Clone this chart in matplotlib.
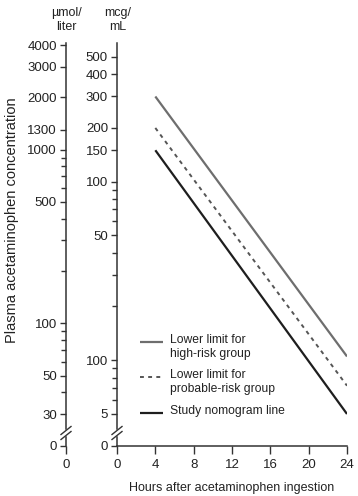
import matplotlib
matplotlib.use("Agg")
import matplotlib.pyplot as plt
from matplotlib.lines import Line2D
from matplotlib.ticker import NullFormatter, FixedLocator, FixedFormatter

plt.rcParams['font.family'] = ['Liberation Sans', 'DejaVu Sans']

# ---- data ----
hours = [4, 24]
high_risk = [300, 10.5]
probable_risk = [200, 7.2]
study_line = [150, 5.0]

x_ticks = [0, 4, 8, 12, 16, 20, 24]
mcg_ticks = [5, 10, 50, 100, 150, 200, 300, 400, 500]
mcg_labels = ['5', '100', '50', '100', '150', '200', '300', '400', '500']
mcg_minor = [6, 7, 8, 9, 20, 30, 40, 60, 70, 80, 90]
umol_ticks = [30, 50, 100, 500, 1000, 1300, 2000, 3000, 4000]
umol_labels = ['30', '50', '100', '500', '1000', '1300', '2000', '3000', '4000']
umol_minor = [40, 60, 70, 80, 90, 200, 300, 400, 600, 700, 800, 900]

legend_labels = ['Lower limit for\nhigh-risk group',
                 'Lower limit for\nprobable-risk group',
                 'Study nomogram line']

W, H = 358, 496
fig = plt.figure(figsize=(W / 100, H / 100), dpi=100)

def rect(x0, y_top, x1, y_bot):
    return [x0 / W, 1 - y_bot / H, (x1 - x0) / W, (y_bot - y_top) / H]

FS = 9
FS_TICK = 9.5
FS_LEG = 8.7
FS_YLAB = 10.5
TXC = '#222222'
AXC = '#333333'
TL = 4.5

def style_axis(ax):
    for s in ['top', 'right', 'bottom']:
        ax.spines[s].set_visible(False)
    ax.spines['left'].set_color(AXC)
    ax.spines['left'].set_linewidth(1.1)
    ax.tick_params(axis='y', which='major', length=TL, width=1.0, color=AXC,
                   labelsize=FS_TICK, pad=2, labelcolor=TXC)
    ax.tick_params(axis='y', which='minor', length=3.8, width=1.0, color=AXC)
    ax.patch.set_visible(False)

# ---- main mcg/mL axes (log part) ----
x_left, x_right = 117, 347
y_top, y_brk = 43, 429
ax = fig.add_axes(rect(x_left, y_top, x_right, y_brk))
ax.set_yscale('log')
ax.set_xlim(0, 24)
ax.set_ylim(4.12, 598)
style_axis(ax)
ax.set_xticks([])
ax.yaxis.set_major_locator(FixedLocator(mcg_ticks))
ax.yaxis.set_major_formatter(FixedFormatter(mcg_labels))
ax.yaxis.set_minor_locator(FixedLocator(mcg_minor))
ax.yaxis.set_minor_formatter(NullFormatter())

styles = [dict(color='#6e6e6e', lw=1.6, solid_capstyle='butt'),
          dict(color='#555555', lw=1.4, linestyle=(0, (2, 2.2))),
          dict(color='#1e1e1e', lw=1.6, solid_capstyle='butt')]
for vals, st in zip([high_risk, probable_risk, study_line], styles):
    ax.plot(hours, vals, **st)

# ---- legend (handles aligned with first text line) ----
leg_first_line_y = [342, 377, 413]
for lab, st, yy in zip(legend_labels, styles, leg_first_line_y):
    fy = 1 - yy / H
    fig.add_artist(Line2D([140 / W, 163 / W], [fy, fy], **st))
    fig.text(170 / W, 1 - (yy - 8) / H, lab, ha='left', va='top', fontsize=FS_LEG,
             color=TXC, linespacing=1.2)

# ---- main bottom axes (zero part) ----
y_low_top, y_zero = 437, 446
ax0 = fig.add_axes(rect(x_left, y_low_top, x_right, y_zero))
ax0.set_xlim(0, 24)
ax0.set_ylim(0, 1)
for s in ['top', 'right']:
    ax0.spines[s].set_visible(False)
for s in ['left', 'bottom']:
    ax0.spines[s].set_color(AXC)
    ax0.spines[s].set_linewidth(1.1)
ax0.set_yticks([0])
ax0.set_yticklabels(['0'])
ax0.set_xticks(x_ticks)
ax0.set_xticklabels([str(v) for v in x_ticks])
ax0.tick_params(axis='both', length=TL, width=1.0, color=AXC, labelsize=FS_TICK, pad=2,
                labelcolor=TXC)
ax0.tick_params(axis='x', length=6, pad=3)
ax0.patch.set_visible(False)
ax0.set_xlabel('Hours after acetaminophen ingestion', fontsize=FS, color=TXC, labelpad=8)

# ---- left umol/liter axes (log part) ----
xu = 66
axu = fig.add_axes(rect(xu, y_top, xu + 2, y_brk))
axu.set_yscale('log')
axu.set_ylim(24.6, 4108)
axu.set_xticks([])
style_axis(axu)
axu.yaxis.set_major_locator(FixedLocator(umol_ticks))
axu.yaxis.set_major_formatter(FixedFormatter(umol_labels))
axu.yaxis.set_minor_locator(FixedLocator(umol_minor))
axu.yaxis.set_minor_formatter(NullFormatter())

fig.text(12 / W, 1 - 220 / H, 'Plasma acetaminophen concentration', rotation=90,
         ha='center', va='center', fontsize=FS_YLAB, color=TXC)

axu0 = fig.add_axes(rect(xu, y_low_top, xu + 2, y_zero))
axu0.set_xlim(0, 1)
axu0.set_ylim(0, 1)
for s in ['top', 'right', 'bottom']:
    axu0.spines[s].set_visible(False)
axu0.spines['left'].set_color(AXC)
axu0.spines['left'].set_linewidth(1.1)
axu0.set_yticks([0])
axu0.set_yticklabels(['0'])
axu0.set_xticks([0])
axu0.set_xticklabels(['0'])
axu0.tick_params(axis='both', length=TL, width=1.0, color=AXC, labelsize=FS_TICK, pad=2,
                 labelcolor=TXC)
axu0.tick_params(axis='x', length=6, pad=3)
axu0.patch.set_visible(False)

# ---- axis break marks ----
for xc in (xu, x_left):
    for dy in (-2.5, 2.5):
        xs = [(xc - 5) / W, (xc + 5) / W]
        ys = [1 - (433 + dy + 4) / H, 1 - (433 + dy - 4) / H]
        fig.add_artist(Line2D(xs, ys, color=AXC, lw=1.0))

# ---- unit headers ----
fig.text(xu / W, 1 - 20 / H, 'µmol/\nliter', ha='center', va='center', fontsize=FS,
         color=TXC, linespacing=1.3)
fig.text((x_left + 1) / W, 1 - 20 / H, 'mcg/\nmL', ha='center', va='center', fontsize=FS,
         color=TXC, linespacing=1.3)

fig.savefig('out.png', dpi=100)
